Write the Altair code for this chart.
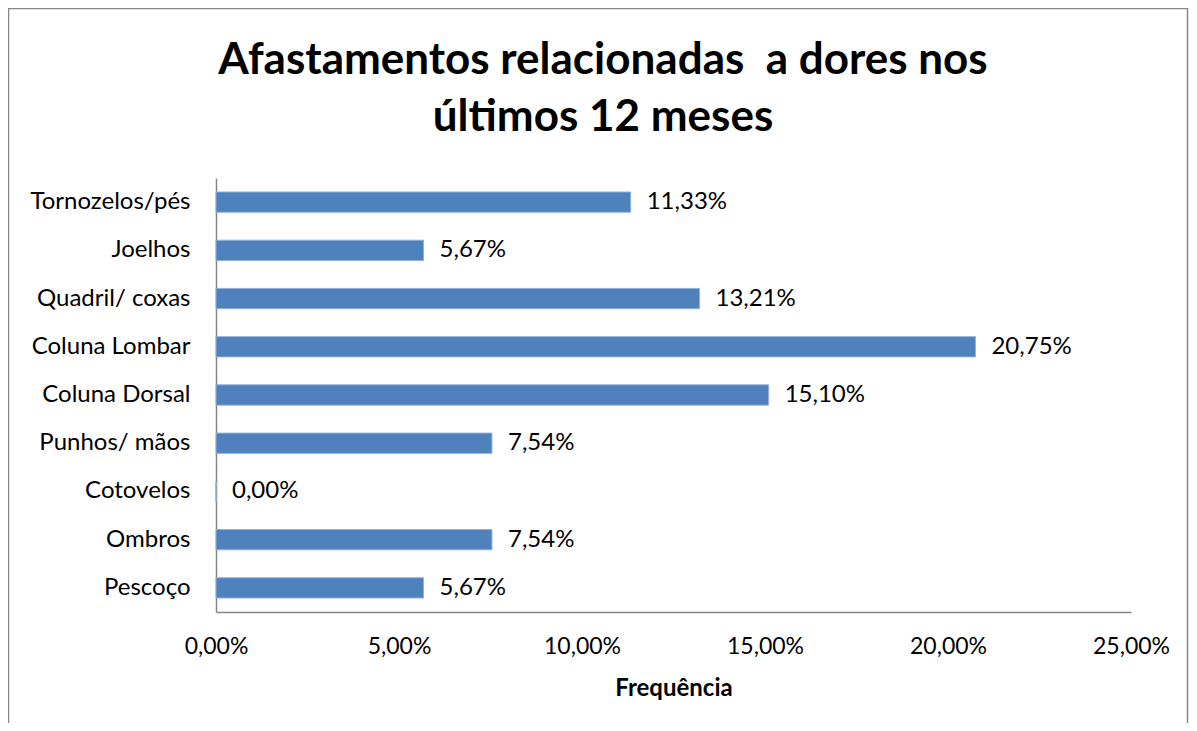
import altair as alt
import pandas as pd

categories = ["Tornozelos/pés", "Joelhos", "Quadril/ coxas", "Coluna Lombar",
              "Coluna Dorsal", "Punhos/ mãos", "Cotovelos", "Ombros", "Pescoço"]
values = [11.33, 5.67, 13.21, 20.75, 15.10, 7.54, 0.00, 7.54, 5.67]
x_ticks = [0, 5, 10, 15, 20, 25]
title_lines = ["Afastamentos relacionadas \u00a0a dores nos", "últimos 12 meses"]

df = pd.DataFrame({"cat": categories, "val": values})

FONT = "Lato"
W, H = 915, 434
PL, PT, PR, PB = 208, 170, 58, 111

base = alt.Chart(df).encode(
    y=alt.Y("cat:N", sort=categories,
            scale=alt.Scale(paddingInner=0.58, paddingOuter=0.29),
            axis=alt.Axis(title=None, ticks=False, labelPadding=26, labelFontSize=24,
                          labelFont=FONT, labelColor="black", domainColor="#868686",
                          domainWidth=1.5, grid=False))
)

bars = base.mark_bar(color="#4F81BD", stroke="#8FB1DA", strokeWidth=1).encode(
    x=alt.X("val:Q", scale=alt.Scale(domain=[0, 25], nice=False),
            axis=alt.Axis(values=x_ticks, title="Frequência", ticks=False, grid=False,
                          labelExpr="replace(format(datum.value, '.2f'), '.', ',') + '%'",
                          labelFontSize=23, labelFont=FONT, labelColor="black",
                          labelPadding=23, labelFlush=False, labelOverlap=False,
                          titleFont=FONT, titleFontSize=24,
                          titleFontWeight="bold", titleColor="black", titlePadding=18,
                          domainColor="#868686", domainWidth=1.5))
)

labels = base.mark_text(align="left", baseline="middle", dx=16, fontSize=24,
                        font=FONT, color="black").encode(
    x=alt.X("val:Q"),
    text=alt.Text("lbl:N")
).transform_calculate(lbl="replace(format(datum.val, '.2f'), '.', ',') + '%'")

border = alt.Chart(alt.Data(values=[{}])).mark_rect(
    filled=False, stroke="#868686", strokeWidth=1.5
).encode(
    x=alt.value(-207.5), x2=alt.value(W + PR - 1.5),
    y=alt.value(-169.5), y2=alt.value(H + PB + 40)
)

title = alt.Chart(alt.Data(values=[{}])).mark_text(
    fontSize=44, font=FONT, fontWeight="bold", color="black",
    align="center", baseline="alphabetic", lineHeight=57
).encode(
    x=alt.value(387), y=alt.value(-104), text=alt.value(title_lines)
)

chart = alt.layer(border, bars, labels, title).properties(
    width=W, height=H,
    autosize=alt.AutoSizeParams(type="none"),
    padding={"left": PL, "top": PT, "right": PR, "bottom": PB},
).configure(background="white").configure_view(stroke=None)

chart.save("out.html", embed_options={"renderer": "svg", "actions": False})
